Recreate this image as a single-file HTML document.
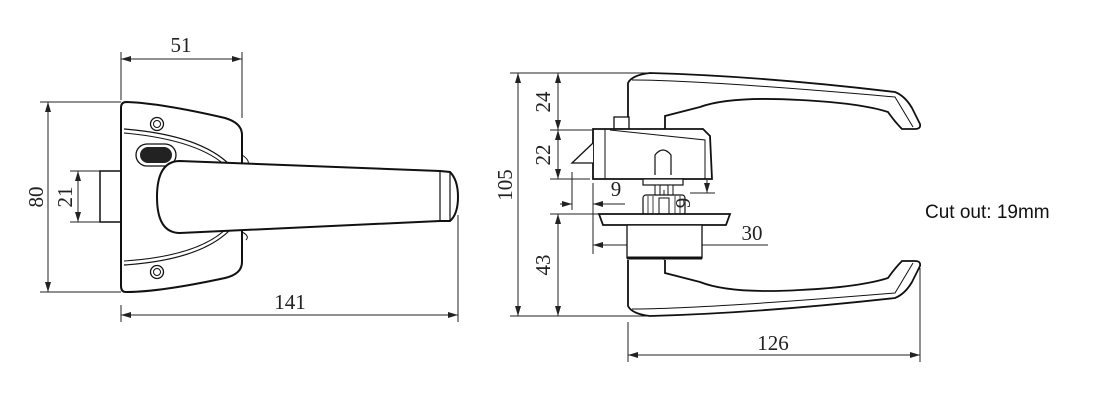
<!DOCTYPE html>
<html><head><meta charset="utf-8"><style>
html,body{margin:0;padding:0;background:#fff;width:1100px;height:400px;overflow:hidden}
svg{display:block}
.d{font-family:"Liberation Serif",serif;font-size:21px;fill:#222}
</style></head><body>
<svg width="1100" height="400" viewBox="0 0 1100 400" xmlns="http://www.w3.org/2000/svg">
<defs>
<marker id="a" markerWidth="10" markerHeight="6" refX="10" refY="3" orient="auto-start-reverse" markerUnits="userSpaceOnUse"><path d="M0,0 L10,3 L0,6 z" fill="#222"/></marker>
</defs>
<g stroke="#222" stroke-width="1" fill="none">
<!-- LEFT VIEW dimensions -->
<line x1="121" y1="52" x2="121" y2="100"/>
<line x1="242" y1="52" x2="242" y2="118"/>
<line x1="121" y1="59" x2="242" y2="59" marker-start="url(#a)" marker-end="url(#a)"/>
<line x1="40" y1="102" x2="121" y2="102"/>
<line x1="40" y1="292" x2="121" y2="292"/>
<line x1="48" y1="102" x2="48" y2="292" marker-start="url(#a)" marker-end="url(#a)"/>
<line x1="70" y1="171" x2="100" y2="171"/>
<line x1="70" y1="222" x2="100" y2="222"/>
<line x1="78" y1="171" x2="78" y2="222" marker-start="url(#a)" marker-end="url(#a)"/>
<line x1="121" y1="305" x2="121" y2="322"/>
<line x1="458" y1="215" x2="458" y2="322"/>
<line x1="121" y1="315" x2="458" y2="315" marker-start="url(#a)" marker-end="url(#a)"/>
</g>
<g stroke="#111" stroke-width="2" fill="#fff">
<rect x="100" y="171" width="21" height="51" stroke-width="1.5"/>
<path d="M126,102 Q160,103 225,118 Q242,123 242,135 L242,262 Q242,274 225,278 Q160,292 126,292 Q121,292 121,286 L121,108 Q121,102 126,102 Z"/>
<path d="M124,129 Q200,135 230,165 M124,265 Q200,260 230,230" stroke-width="1.2" fill="none"/>
<path d="M124,133 Q200,140 228,168 M124,261 Q200,256 228,227" stroke-width="1" fill="none"/>
<path d="M242,155 Q250,160 248,165 M242,232 Q250,236 246,240" stroke-width="1" fill="none"/>
<circle cx="157" cy="124" r="6.5" stroke-width="1.3"/><circle cx="157" cy="124" r="3.5" stroke-width="1"/>
<circle cx="157" cy="272" r="6.5" stroke-width="1.3"/><circle cx="157" cy="272" r="3.5" stroke-width="1"/>
<rect x="136" y="144" width="40" height="22" rx="11" stroke-width="1.3"/>
<rect x="140" y="147" width="32" height="16" rx="8" fill="#222" stroke="none"/>
<path d="M180,161 L440,171 L450,172 Q458,180 458,197 Q458,214 450,221 L440,221 L180,233 Q157,233 157,197 Q157,161 180,161 Z"/>
<path d="M440,171 L440,221 M450,172 L450,221" stroke-width="1.2" fill="none"/>
</g>
<text class="d" x="181" y="52" text-anchor="middle">51</text>
<text class="d" x="290" y="309" text-anchor="middle">141</text>
<text class="d" transform="translate(43,197) rotate(-90)" text-anchor="middle">80</text>
<text class="d" transform="translate(72,197) rotate(-90)" text-anchor="middle">21</text>

<!-- RIGHT VIEW -->
<g stroke="#222" stroke-width="1" fill="none">
<line x1="510" y1="73" x2="652" y2="73"/>
<line x1="510" y1="316" x2="652" y2="316"/>
<line x1="518" y1="73" x2="518" y2="316" marker-start="url(#a)" marker-end="url(#a)"/>
<line x1="550" y1="130" x2="592" y2="130"/>
<line x1="550" y1="179" x2="590" y2="179"/>
<line x1="550" y1="214" x2="600" y2="214"/>
<line x1="558" y1="73" x2="558" y2="130" marker-start="url(#a)" marker-end="url(#a)"/>
<line x1="558" y1="130" x2="558" y2="179" marker-start="url(#a)" marker-end="url(#a)"/>
<line x1="558" y1="214" x2="558" y2="316" marker-start="url(#a)" marker-end="url(#a)"/>
<line x1="572" y1="172" x2="572" y2="210"/>
<line x1="560" y1="204" x2="572" y2="204" marker-end="url(#a)"/>
<line x1="593" y1="183" x2="593" y2="254"/>
<line x1="593" y1="204" x2="625" y2="204" marker-start="url(#a)"/>
<line x1="690" y1="193" x2="715" y2="193"/>
<line x1="707" y1="180" x2="707" y2="193" marker-end="url(#a)"/>
<line x1="707" y1="215" x2="707" y2="225" marker-start="url(#a)"/>
<line x1="593" y1="245" x2="768" y2="245"/>
<line x1="593" y1="245" x2="664" y2="245" marker-start="url(#a)" marker-end="url(#a)"/>
<line x1="664" y1="190" x2="664" y2="270"/>
<line x1="628" y1="322" x2="628" y2="362"/>
<line x1="920" y1="268" x2="920" y2="362"/>
<line x1="628" y1="355" x2="920" y2="355" marker-start="url(#a)" marker-end="url(#a)"/>
</g>
<g stroke="#111" stroke-width="1.8" fill="#fff">
<path d="M628,120 L628,83 Q632,75 650,73 Q760,76 895,92 Q905,96 912,108 L920,124 Q921,129 915,129 L902,129 Q895,122 888,112 Q860,103 800,100 Q730,96 700,107 L665,116 L665,129"/>
<path d="M632,80 Q700,80 895,97 L913,127" fill="none" stroke-width="1"/>
<path d="M628,260 L628,306 Q632,314 650,316 Q760,313 895,298 Q905,294 912,282 L920,266 Q921,261 915,261 L902,261 Q895,268 888,278 Q860,287 800,290 Q730,294 700,282 L665,273 L665,260"/>
<path d="M632,309 Q700,309 895,293 L913,263" fill="none" stroke-width="1"/>
<rect x="614" y="117" width="15" height="12" stroke-width="1.3"/>
<path d="M593,129 L703,129 L710,136 L712,179 L593,179 Z"/>
<path d="M605,129 L605,179 M610,130 L705,140 L705,179" fill="none" stroke-width="1"/>
<path d="M593,143 L572,163 L593,163" stroke-width="1.3"/>
<rect x="643" y="179" width="40" height="6" stroke-width="1.2"/>
<path d="M655,175 L655,155 Q663,145 671,155 L671,175" stroke-width="1.2"/>
<rect x="655" y="185" width="5" height="12" stroke-width="1"/><rect x="668" y="185" width="5" height="12" stroke-width="1"/>
<rect x="643" y="195" width="42" height="20" rx="3" stroke-width="1.2"/>
<path d="M648,196 V214 M653,196 V214 M675,196 V214 M680,196 V214" stroke-width="0.8" fill="none"/>
<rect x="659" y="198" width="10" height="17" stroke-width="1"/>
<path d="M599,214 L730,214 L726,225 L603,225 Z"/>
<rect x="627" y="225" width="75" height="33" stroke-width="1.3"/>
<line x1="627" y1="258" x2="702" y2="258" stroke-width="3"/>
</g>
<text class="d" x="773" y="350" text-anchor="middle">126</text>
<text class="d" x="752" y="240" text-anchor="middle">30</text>
<text class="d" x="616" y="196" text-anchor="middle">9</text>
<text class="d" transform="translate(690,203) rotate(-90)" text-anchor="middle">9</text>
<text class="d" transform="translate(512,185) rotate(-90)" text-anchor="middle">105</text>
<text class="d" transform="translate(550,102) rotate(-90)" text-anchor="middle">24</text>
<text class="d" transform="translate(550,155) rotate(-90)" text-anchor="middle">22</text>
<text class="d" transform="translate(550,265) rotate(-90)" text-anchor="middle">43</text>
<text x="925" y="218" font-family="Liberation Sans, sans-serif" font-size="19" fill="#111">Cut out: 19mm</text>
</svg>
</body></html>
